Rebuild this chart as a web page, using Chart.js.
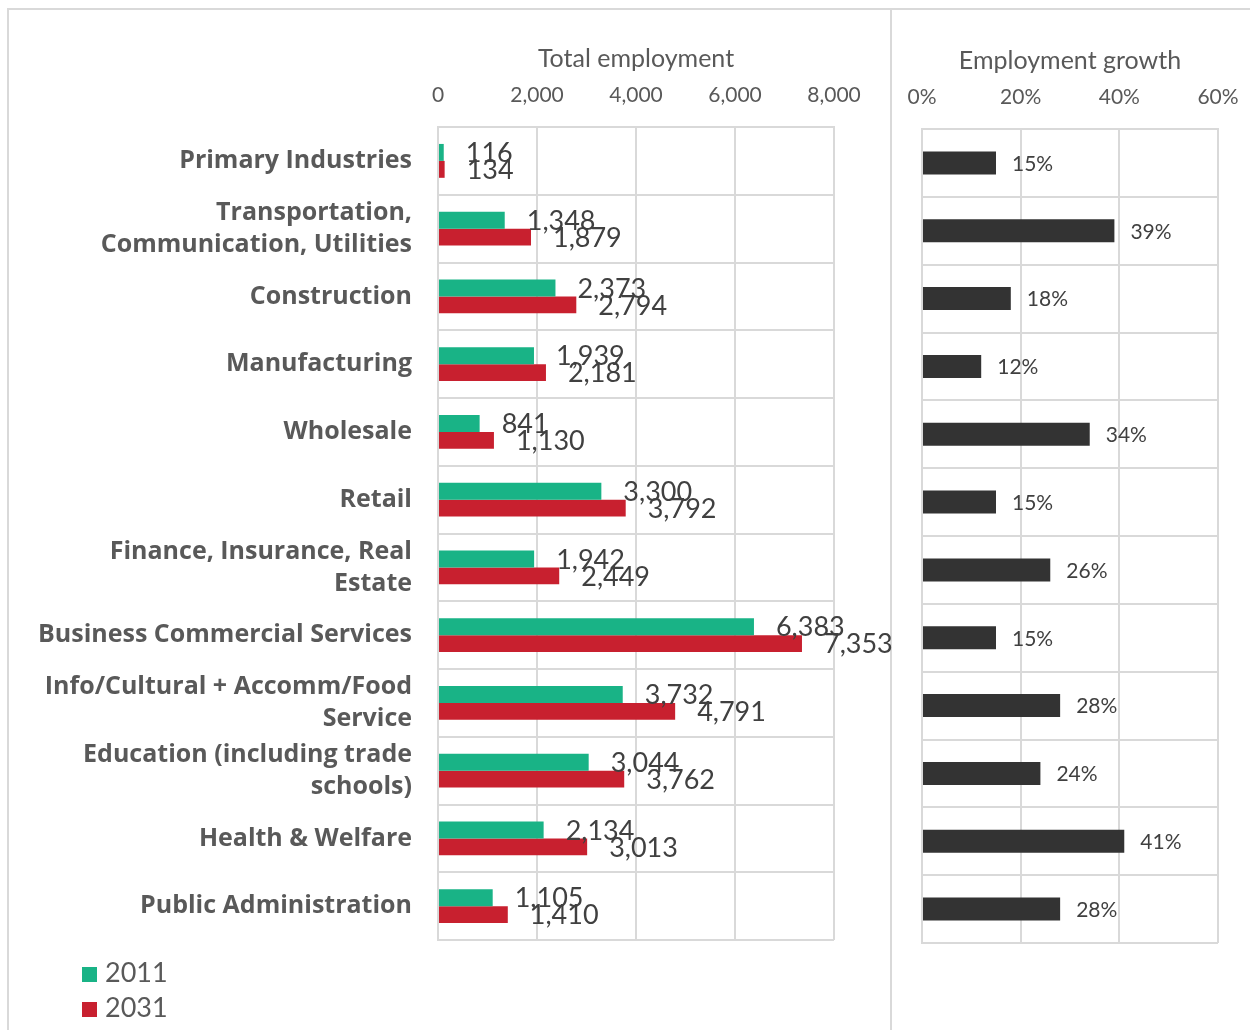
<!DOCTYPE html>
<html>
<head>
<meta charset="utf-8">
<script src="https://cdn.jsdelivr.net/npm/chart.js@4.4.0/dist/chart.umd.min.js"></script>
<style>
  body { margin: 0; background: #fff; width: 1250px; height: 1030px; overflow: hidden; position: relative; font-family: Lato, sans-serif; }
  canvas { position: absolute; top: 0; }
  #totalChart { left: 0; }
  #growthChart { left: 892px; }
  .rule { position: absolute; background: #d9d9d9; }
  .legend { position: absolute; left: 82px; font-size: 27px; color: #595959; line-height: 30px; }
  .legend span { display: inline-block; width: 15px; height: 15px; margin-right: 8px; }
</style>
</head>
<body>
<div class="rule" style="left:8px; top:8px; width:1242px; height:2px;"></div>
<div class="rule" style="left:7px; top:8px; width:2px; height:1022px;"></div>
<div class="rule" style="left:890px; top:8px; width:2px; height:1022px;"></div>

<canvas id="totalChart" width="920" height="1030"></canvas>
<canvas id="growthChart" width="358" height="1030"></canvas>

<div class="legend" style="top:957px;"><span style="background:#19b386;"></span>2011</div>
<div class="legend" style="top:992px;"><span style="background:#c8202f;"></span>2031</div>

<script>
const industries = [
  'Primary Industries',
  ['Transportation,', 'Communication, Utilities'],
  'Construction',
  'Manufacturing',
  'Wholesale',
  'Retail',
  ['Finance, Insurance, Real', 'Estate'],
  'Business Commercial Services',
  ['Info/Cultural + Accomm/Food', 'Service'],
  ['Education (including trade', 'schools)'],
  'Health & Welfare',
  'Public Administration'
];
const jobs2011 = [116, 1348, 2373, 1939, 841, 3300, 1942, 6383, 3732, 3044, 2134, 1105];
const jobs2031 = [134, 1879, 2794, 2181, 1130, 3792, 2449, 7353, 4791, 3762, 3013, 1410];
const growthPct = [15, 39, 18, 12, 34, 15, 26, 15, 28, 24, 41, 28];

const gridGrey = '#d9d9d9';
const axisGrey = '#595959';

// writes each bar's value just past its end
function barLabels(format, font, offset) {
  return {
    id: 'barLabels',
    afterDatasetsDraw(chart) {
      const ctx = chart.ctx;
      ctx.save();
      ctx.font = font;
      ctx.fillStyle = '#404040';
      ctx.textAlign = 'left';
      ctx.textBaseline = 'middle';
      chart.data.datasets.forEach((ds, i) => {
        chart.getDatasetMeta(i).data.forEach((bar, j) => {
          ctx.fillText(format(ds.data[j]), bar.x + offset, bar.y + 1);
        });
      });
      ctx.restore();
    }
  };
}

// top value axis with a fixed height; the label overhang is left to the layout padding
function valueAxis(max, step, fmt, title) {
  return {
    position: 'top',
    min: 0,
    max: max,
    ticks: { stepSize: step, color: axisGrey, font: { family: 'Lato', size: 21 }, padding: 19, callback: fmt },
    grid: { color: gridGrey, lineWidth: 2, drawTicks: false },
    border: { color: gridGrey, width: 2 },
    title: { display: true, text: title, color: axisGrey, font: { family: 'Lato', size: 25 }, padding: { top: 4, bottom: 0 } },
    afterFit: s => { s.height = 87; s.paddingLeft = 0; s.paddingRight = 0; }
  };
}

new Chart(document.getElementById('totalChart'), {
  type: 'bar',
  data: {
    labels: industries,
    datasets: [
      { label: '2011', data: jobs2011, backgroundColor: '#19b386', categoryPercentage: 0.5, barPercentage: 1.0 },
      { label: '2031', data: jobs2031, backgroundColor: '#c8202f', categoryPercentage: 0.5, barPercentage: 1.0 }
    ]
  },
  options: {
    indexAxis: 'y',
    responsive: false,
    animation: false,
    layout: { padding: { left: 0, right: 86, top: 40, bottom: 90 } },
    plugins: { legend: { display: false }, tooltip: { enabled: false } },
    scales: {
      x: valueAxis(8000, 2000, v => v.toLocaleString('en-US'), 'Total employment'),
      y: {
        ticks: { color: axisGrey, font: { family: 'Open Sans', size: 25, weight: 'bold', lineHeight: 1.28 }, padding: 26 },
        grid: { offset: true, color: gridGrey, lineWidth: 2, drawTicks: false },
        border: { color: gridGrey, width: 2 },
        afterFit: s => { s.width = 438; }
      }
    }
  },
  plugins: [barLabels(v => v.toLocaleString('en-US'), '27px Lato', 22)]
});

new Chart(document.getElementById('growthChart'), {
  type: 'bar',
  data: {
    labels: industries,
    datasets: [
      { label: 'Employment growth', data: growthPct, backgroundColor: '#333333', categoryPercentage: 0.34, barPercentage: 1.0 }
    ]
  },
  options: {
    indexAxis: 'y',
    responsive: false,
    animation: false,
    layout: { padding: { left: 30, right: 32, top: 42, bottom: 87 } },
    plugins: { legend: { display: false }, tooltip: { enabled: false } },
    scales: {
      x: valueAxis(60, 20, v => v + '%', 'Employment growth'),
      y: {
        ticks: { display: false },
        grid: { offset: true, color: gridGrey, lineWidth: 2, drawTicks: false },
        border: { color: gridGrey, width: 2 },
        afterFit: s => { s.width = 0; }
      }
    }
  },
  plugins: [barLabels(v => v + '%', '21px Lato', 16)]
});
</script>
</body>
</html>
